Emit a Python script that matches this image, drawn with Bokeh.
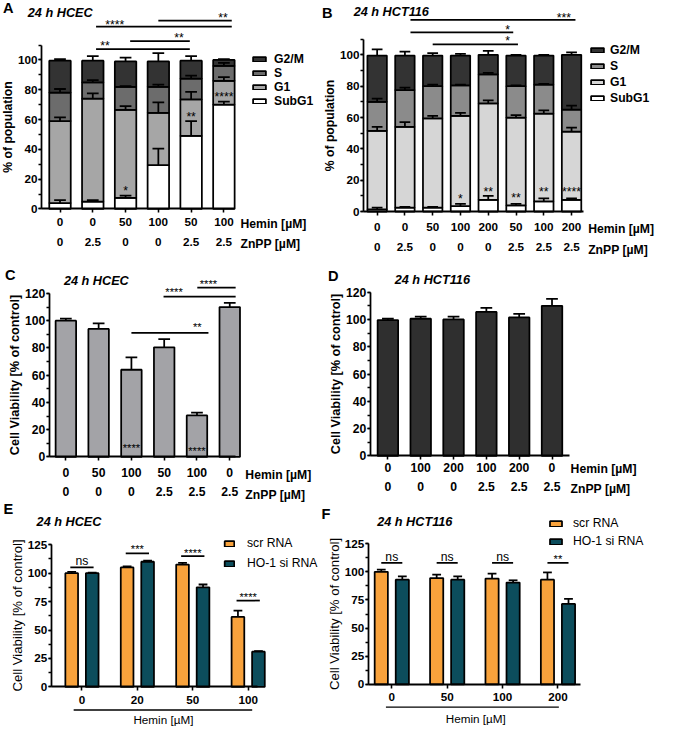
import numpy as np
from bokeh.plotting import figure
from bokeh.models import (Range1d, LinearAxis, FixedTicker, SingleIntervalTicker,
                          ColumnDataSource, Whisker, TeeHead, Legend, LegendItem)
from bokeh.layouts import row, column
from bokeh.embed import file_html
from bokeh.resources import INLINE
from bokeh.core.properties import value

# ======================= DATA =======================
# Panel A: 24 h HCEC, cell-cycle distribution (% of population)
A_hemin = ["0", "0", "50", "100", "50", "100"]
A_znpp = ["0", "2.5", "0", "0", "2.5", "2.5"]
A_subg1 = [4.0, 5.0, 7.5, 29.5, 49.0, 70.0]
A_g1 = [55.0, 69.0, 59.0, 35.0, 24.5, 16.0]
A_s = [19.0, 11.0, 15.5, 17.5, 14.0, 10.0]
A_g2m = [21.5, 14.5, 17.0, 17.0, 12.0, 4.0]
A_subg1_sd = [2.0, 1.0, 1.5, 11.0, 10.0, 2.0]
A_g1_sd = [2.5, 3.5, 2.5, 7.0, 5.0, 2.5]
A_s_sd = [2.5, 1.5, 0.5, 1.5, 2.0, 2.0]
A_g2m_sd = [1.0, 3.0, 2.5, 5.5, 3.0, 0.5]
A_bar_stars = [(2, 13.9, "*"), (4, 63.6, "**"), (5, 77.1, "****")]
A_brackets = [(1.10, 5.24, 122.4, "****", 1.67, 125.0),
              (3.00, 5.24, 126.3, "**", 4.97, 130.1),
              (2.14, 3.96, 112.6, "**", 3.63, 116.3),
              (1.10, 3.96, 107.2, "**", 1.37, 111.1)]

# Panel B: 24 h HCT116, cell-cycle distribution (% of population)
B_hemin = ["0", "0", "50", "100", "200", "50", "100", "200"]
B_znpp = ["0", "2.5", "0", "0", "0", "2.5", "2.5", "2.5"]
B_subg1 = [1.5, 2.5, 2.5, 3.5, 7.5, 4.0, 6.5, 7.5]
B_g1 = [50.0, 51.5, 57.0, 57.5, 61.5, 56.0, 56.0, 43.5]
B_s = [18.5, 23.5, 20.5, 19.5, 18.5, 20.0, 18.5, 14.0]
B_g2m = [29.5, 22.0, 19.5, 19.0, 12.5, 19.5, 18.5, 35.0]
B_subg1_sd = [1.0, 0.5, 0.5, 1.5, 2.5, 1.0, 2.0, 1.0]
B_g1_sd = [2.5, 3.0, 1.5, 2.0, 2.0, 1.5, 2.0, 2.5]
B_s_sd = [2.0, 1.5, 1.0, 0.5, 1.0, 0.5, 0.5, 2.5]
B_g2m_sd = [4.0, 2.5, 1.5, 1.0, 2.5, 0.5, 0.5, 1.5]
B_bar_stars = [(3, 9.8, "*"), (4, 14.5, "**"), (5, 10.4, "**"), (6, 14.1, "**"), (7, 14.1, "****")]
B_brackets = [(1.20, 7.14, 122.2, "***", 6.72, 125.3),
              (1.20, 4.90, 114.3, "*", 4.70, 117.6),
              (2.00, 5.07, 106.6, "*", 4.70, 110.4)]

# Panel C: 24 h HCEC, cell viability (% of control)
C_hemin = ["0", "50", "100", "50", "100", "0"]
C_znpp = ["0", "0", "0", "2.5", "2.5", "2.5"]
C_viab = [100.0, 94.0, 64.0, 80.5, 30.5, 110.0]
C_sd = [1.5, 4.0, 9.0, 6.0, 2.0, 3.0]
C_bar_stars = [(2, 8.3, "****"), (4, 6.4, "****")]
C_brackets = [(2.00, 4.35, 91.1, "**", 4.01, 97.1),
              (2.98, 5.18, 117.6, "****", 3.30, 122.8),
              (4.01, 5.18, 124.3, "****", 4.35, 129.1)]

# Panel D: 24 h HCT116, cell viability (% of control)
D_hemin = ["0", "100", "200", "100", "200", "0"]
D_znpp = ["0", "0", "0", "2.5", "2.5", "2.5"]
D_viab = [99.5, 100.5, 100.0, 105.5, 101.5, 110.0]
D_sd = [1.0, 1.5, 2.0, 3.0, 2.5, 5.0]

# Panel E: 24 h HCEC, siRNA
E_hemin = ["0", "20", "50", "100"]
E_scr = [100.0, 105.0, 107.5, 61.5]
E_scr_sd = [1.0, 1.0, 1.5, 5.5]
E_ho1 = [100.0, 110.0, 87.5, 31.0]
E_ho1_sd = [0.5, 1.0, 2.5, 0.5]
E_sig = ["ns", "***", "****", "****"]
E_sig_line = [105.0, 117.3, 115.0, 75.9]
E_sig_text = [110.7, 123.5, 119.9, 81.6]

# Panel F: 24 h HCT116, siRNA
F_hemin = ["0", "50", "100", "200"]
F_scr = [100.0, 94.5, 94.0, 93.0]
F_scr_sd = [2.0, 3.0, 4.5, 6.5]
F_ho1 = [93.0, 93.0, 90.5, 71.5]
F_ho1_sd = [3.0, 3.0, 2.0, 4.5]
F_sig = ["ns", "ns", "ns", "**"]
F_sig_line = [108.0, 108.0, 108.0, 108.0]
F_sig_text = [113.2, 113.2, 113.2, 114.0]

# ======================= STYLE / LAYOUT =======================
S = 0.976
FONT = "Liberation Sans"
ORANGE = "#f8a23c"
TEAL = "#0c4d5c"
LW = 1.8


def fs(v):
    return f"{v * S:.1f}px"


class Geo:
    def __init__(self, x0, x1, y0, y1, cx, dx, by, ky):
        self.x0, self.x1, self.y0, self.y1 = x0, x1, y0, y1
        self.cx, self.dx, self.by, self.ky = cx, dx, by, ky

    def X(self, px):
        return (px - self.cx) / self.dx

    def Y(self, py):
        return (self.by - py) / self.ky


def base_fig(g):
    w = round((g.x1 - g.x0) * S)
    h = round((g.y1 - g.y0) * S)
    p = figure(width=w, height=h,
               x_range=Range1d(g.X(g.x0), g.X(g.x1)),
               y_range=Range1d(g.Y(g.y1), g.Y(g.y0)),
               x_axis_type=None, y_axis_type=None,
               output_backend="svg", toolbar_location=None, min_border=0)
    p.outline_line_color = None
    p.border_fill_color = "white"
    return p


def style_axis(ax, size, bold=True):
    ax.axis_line_color = "black"
    ax.axis_line_width = LW * S
    ax.major_tick_line_color = "black"
    ax.major_tick_line_width = 1.6 * S
    ax.minor_tick_line_color = "black"
    ax.minor_tick_line_width = 1.4 * S
    ax.major_tick_in = 0
    ax.major_tick_out = 4
    ax.minor_tick_in = 0
    ax.minor_tick_out = 3
    ax.major_label_text_font = FONT
    ax.major_label_text_font_style = "bold" if bold else "normal"
    ax.major_label_text_font_size = fs(size)
    ax.major_label_text_color = "black"


def add_y_axis(p, xpos, top, interval, label, label_bold=True, label_size=12.5, tick_size=12):
    ax = LinearAxis(fixed_location=xpos, bounds=(0, top),
                    ticker=SingleIntervalTicker(interval=interval, num_minor_ticks=2),
                    axis_label=label)
    style_axis(ax, tick_size)
    ax.major_tick_out = 3
    ax.major_label_standoff = 1
    ax.axis_label_text_font = FONT
    ax.axis_label_text_font_style = "bold" if label_bold else "normal"
    ax.axis_label_text_font_size = fs(label_size)
    ax.axis_label_text_color = "black"
    ax.axis_label_standoff = 0
    p.add_layout(ax, "left")


def add_x_axis(p, lo, hi, labels, standoff, show_line=True, size=12):
    ticks = list(range(len(labels)))
    ax = LinearAxis(fixed_location=0, bounds=(lo, hi),
                    ticker=FixedTicker(ticks=ticks, minor_ticks=[]),
                    major_label_overrides={t: l for t, l in zip(ticks, labels)})
    style_axis(ax, size)
    if not show_line:
        ax.axis_line_color = None
        ax.major_tick_line_color = None
        ax.major_tick_out = 0
    ax.major_label_standoff = round(standoff * S)
    p.add_layout(ax, "below")


def add_err(p, x, top, sd, cap):
    top = np.asarray(top, dtype=float)
    src = ColumnDataSource(dict(x=list(x), lo=list(top), hi=list(top + np.asarray(sd, dtype=float))))
    w = Whisker(source=src, base="x", lower="lo", upper="hi", dimension="height",
                level="annotation", line_color="black", line_width=LW * S,
                upper_head=TeeHead(size=cap * S, line_color="black", line_width=LW * S),
                lower_head=None)
    p.add_layout(w)


def txt(p, x, y, t, size, style="normal", align="center", baseline="middle", yoff=0):
    p.text(x=[x], y=[y], text=[t], text_font=value(FONT), text_font_size=fs(size),
           text_font_style=style, text_align=align, text_baseline=baseline,
           text_color="black", y_offset=yoff * S)


def star(p, x, y, t, size=12.5):
    # asterisks sit high in the em box: shift so the glyph centre is at y
    txt(p, x, y, t, size, yoff=0.22 * size)


def brackets(p, items, size=12.5):
    for x0, x1, y, lab, tx, ty in items:
        p.segment(x0=[x0], y0=[y], x1=[x1], y1=[y], line_color="black", line_width=LW * S)
        star(p, tx, ty, lab, size)


def make_legend(p, items, x, yb, gw, gh, rowh, standoff, size, bold):
    lg = Legend(items=items, location=(round(x * S), round(yb * S)), orientation="vertical")
    lg.border_line_color = None
    lg.background_fill_alpha = 0
    lg.padding = 0
    lg.margin = 0
    lg.spacing = 0
    lg.glyph_width = round(gw * S)
    lg.glyph_height = round(gh * S)
    lg.label_height = round(rowh * S)
    lg.label_standoff = round(standoff * S)
    lg.label_text_font = FONT
    lg.label_text_font_style = "bold" if bold else "normal"
    lg.label_text_font_size = fs(size)
    lg.label_text_color = "black"
    p.add_layout(lg)


def stacked_panel(g, hemin, znpp, phases, width, cap, yaxis_px, xend_px, st1, st2,
                  row_px, row_y, letter, letter_xy, title, title_xy, leg):
    p = base_fig(g)
    n = len(hemin)
    x = list(range(n))
    bottom = np.zeros(n)
    rends = []
    for name, vals, sds, color in phases:
        top = bottom + np.asarray(vals, dtype=float)
        r = p.vbar(x=x, width=width, bottom=list(bottom), top=list(top),
                   fill_color=color, line_color="black", line_width=LW * S)
        rends.append((name, r, top, sds))
        bottom = top
    for name, r, top, sds in rends:
        add_err(p, x, top, sds, cap)
    add_y_axis(p, g.X(yaxis_px), 110, 20, "% of population")
    add_x_axis(p, g.X(yaxis_px), g.X(xend_px), hemin, st1)
    add_x_axis(p, g.X(yaxis_px), g.X(xend_px), znpp, st2, show_line=False)
    txt(p, g.X(row_px), g.Y(row_y[0]), "Hemin [µM]", 12.5, "bold", align="left")
    txt(p, g.X(row_px), g.Y(row_y[1]), "ZnPP [µM]", 12.5, "bold", align="left")
    txt(p, g.X(letter_xy[0]), g.Y(letter_xy[1]), letter, 15, "bold")
    txt(p, g.X(title_xy[0]), g.Y(title_xy[1]), title, 13, "bold italic", align="left")
    items = [LegendItem(label=name, renderers=[r]) for name, r, _, _ in reversed(rends)]
    make_legend(p, items, *leg, 12.5, True)
    return p


# ---------------- Panel A ----------------
gA = Geo(0, 327, 0, 272, cx=61, dx=33.6, by=214, ky=1.53)
pA = stacked_panel(gA, A_hemin, A_znpp,
                   [("SubG1", A_subg1, A_subg1_sd, "white"),
                    ("G1", A_g1, A_g1_sd, "#a6a6a6"),
                    ("S", A_s, A_s_sd, "#6c6c6c"),
                    ("G2/M", A_g2m, A_g2m_sd, "#333333")],
                   width=0.655, cap=12, yaxis_px=42, xend_px=240, st1=5, st2=30,
                   row_px=246, row_y=(229, 250), letter="A", letter_xy=(8, 8),
                   title="24 h HCEC", title_xy=(28, 13),
                   leg=(257, 161, 16, 6, 14.3, 7))
brackets(pA, A_brackets)
for i, y, t in A_bar_stars:
    star(pA, i, y, t)

# ---------------- Panel B ----------------
gB = Geo(327, 674, 0, 272, cx=386, dx=28.43, by=216.7, ky=1.61)
pB = stacked_panel(gB, B_hemin, B_znpp,
                   [("SubG1", B_subg1, B_subg1_sd, "white"),
                    ("G1", B_g1, B_g1_sd, "#d6d6d6"),
                    ("S", B_s, B_s_sd, "#8b8b8b"),
                    ("G2/M", B_g2m, B_g2m_sd, "#333333")],
                   width=0.70, cap=11, yaxis_px=372, xend_px=597, st1=7, st2=32,
                   row_px=602, row_y=(235, 256), letter="B", letter_xy=(335, 12.5),
                   title="24 h  HCT116", title_xy=(362, 12.3),
                   leg=(277, 163, 16, 6, 15.9, 5))
brackets(pB, B_brackets)
for i, y, t in B_bar_stars:
    star(pB, i, y, t)


# ---------------- Panels C / D ----------------
def viab_panel(g, hemin, znpp, vals, sds, color, yaxis_px, xend_px, st1, st2,
               row_px, row_y, letter, letter_xy, title, title_xy):
    p = base_fig(g)
    x = list(range(len(vals)))
    p.vbar(x=x, width=0.625, top=vals, bottom=0, fill_color=color,
           line_color="black", line_width=LW * S)
    add_err(p, x, vals, sds, 12)
    add_y_axis(p, g.X(yaxis_px), 120, 20, "Cell Viability [% of control]",
               label_size=13, tick_size=12.5)
    add_x_axis(p, g.X(yaxis_px), g.X(xend_px), hemin, st1, size=12.5)
    add_x_axis(p, g.X(yaxis_px), g.X(xend_px), znpp, st2, show_line=False, size=12.5)
    txt(p, g.X(row_px), g.Y(row_y[0]), "Hemin [µM]", 12.5, "bold", align="left")
    txt(p, g.X(row_px), g.Y(row_y[1]), "ZnPP [µM]", 12.5, "bold", align="left")
    txt(p, g.X(letter_xy[0]), g.Y(letter_xy[1]), letter, 15, "bold")
    txt(p, g.X(title_xy[0]), g.Y(title_xy[1]), title, 13, "bold italic", align="left")
    return p


gC = Geo(0, 327, 272, 515, cx=67, dx=33.6, by=468.3, ky=1.397)
pC = viab_panel(gC, C_hemin, C_znpp, C_viab, C_sd, "#a3a3a7", 50, 241, 7, 31,
                251, (487, 507), "C", (10, 282), "24 h  HCEC", (65, 288))
brackets(pC, C_brackets, 11.5)
for i, y, t in C_bar_stars:
    star(pC, i, y, t, 11.5)

gD = Geo(327, 674, 272, 515, cx=397, dx=33.6, by=467.3, ky=1.40)
pD = viab_panel(gD, D_hemin, D_znpp, D_viab, D_sd, "#2f2f2f", 379, 583, 3, 27,
                584, (481, 501), "D", (341, 283), "24 h  HCT116", (404, 287))


# ---------------- Panels E / F ----------------
def sirna_panel(g, hemin, scr, scr_sd, ho, ho_sd, off, width, yaxis_px, xend_px,
                line_px, line_y, lab_px, lab_y, sig, sig_line, sig_text, sig_half,
                letter, letter_xy, title, title_xy, leg):
    p = base_fig(g)
    n = len(hemin)
    xs = [i - off for i in range(n)]
    xh = [i + off for i in range(n)]
    r1 = p.vbar(x=xs, width=width, top=scr, bottom=0, fill_color=ORANGE,
                line_color="black", line_width=LW * S)
    r2 = p.vbar(x=xh, width=width, top=ho, bottom=0, fill_color=TEAL,
                line_color="black", line_width=LW * S)
    add_err(p, xs, scr, scr_sd, 9)
    add_err(p, xh, ho, ho_sd, 9)
    add_y_axis(p, g.X(yaxis_px), 125, 25, "Cell Viability [% of control]",
               label_bold=False, label_size=13.5, tick_size=12)
    add_x_axis(p, g.X(yaxis_px), g.X(xend_px), hemin, 5)
    p.segment(x0=[g.X(line_px[0])], y0=[g.Y(line_y)], x1=[g.X(line_px[1])], y1=[g.Y(line_y)],
              line_color="black", line_width=1.4 * S)
    txt(p, g.X(lab_px), g.Y(lab_y), "Hemin [µM]", 12)
    for i in range(n):
        p.segment(x0=[i - sig_half], y0=[sig_line[i]], x1=[i + sig_half], y1=[sig_line[i]],
                  line_color="black", line_width=LW * S)
        if sig[i] == "ns":
            txt(p, i, sig_text[i], "ns", 12.5)
        else:
            star(p, i, sig_text[i], sig[i], 11.5)
    txt(p, g.X(letter_xy[0]), g.Y(letter_xy[1]), letter, 15, "bold")
    txt(p, g.X(title_xy[0]), g.Y(title_xy[1]), title, 13, "bold italic", align="left")
    items = [LegendItem(label="scr RNA", renderers=[r1]),
             LegendItem(label="HO-1 si RNA", renderers=[r2])]
    make_legend(p, items, *leg, 12.5, False)
    return p


gE = Geo(0, 327, 515, 747, cx=83.5, dx=56.8, by=704.3, ky=1.168)
pE = sirna_panel(gE, E_hemin, E_scr, E_scr_sd, E_ho1, E_ho1_sd, 0.185, 0.229, 52, 263,
                 (75, 258), 728, 167, 738, E_sig, E_sig_line, E_sig_text, 0.21,
                 "E", (8, 522), "24 h  HCEC", (37, 535), (228, 159, 12, 7, 20, 12))

gF = Geo(327, 674, 515, 747, cx=401, dx=56.7, by=701.7, ky=1.155)
pF = sirna_panel(gF, F_hemin, F_scr, F_scr_sd, F_ho1, F_ho1_sd, 0.19, 0.238, 377, 594,
                 (395, 572), 725, 487, 737, F_sig, F_sig_line, F_sig_text, 0.19,
                 "F", (333.5, 527), "24 h  HCT116", (386, 535), (235, 182, 15, 7, 18, 10))

layout = column(row(pA, pB), row(pC, pD), row(pE, pF))
open("out.html", "w").write(file_html(layout, INLINE))
